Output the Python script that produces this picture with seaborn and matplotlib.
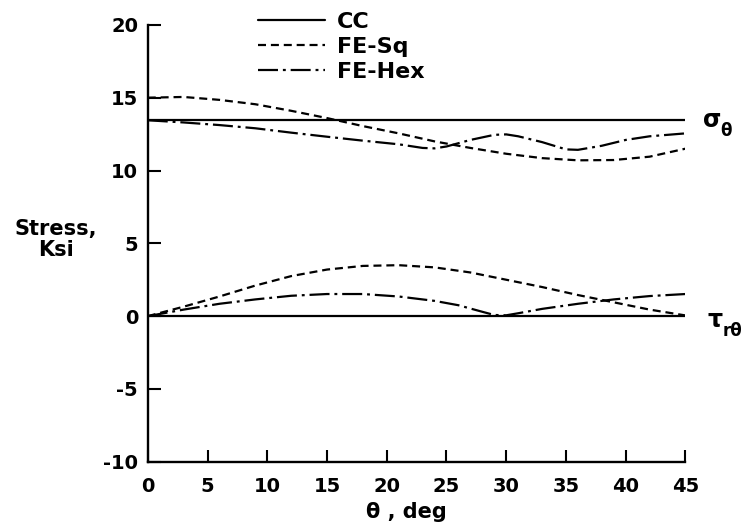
import numpy as np
import pandas as pd
import matplotlib
matplotlib.use("Agg")
import matplotlib.pyplot as plt
from matplotlib.lines import Line2D
import seaborn as sns

# values (tilt of the scan removed)
theta_cc = [0, 45]
sigma_cc = [13.45, 13.45]
tau_cc = [0.0, 0.0]

theta_sq = [0, 3, 6, 9, 12, 15, 18, 21, 24, 27, 30, 33, 36, 39, 42, 45]
sigma_sq = [15.0, 15.05, 14.85, 14.55, 14.1, 13.6, 13.05, 12.55, 12.0, 11.55,
            11.15, 10.85, 10.7, 10.72, 10.95, 11.5]
tau_sq = [0.0, 0.65, 1.35, 2.1, 2.75, 3.2, 3.45, 3.5, 3.35, 3.0,
          2.5, 2.0, 1.45, 0.95, 0.45, 0.05]

theta_hex_s = [0, 3, 6, 9, 12, 15, 18, 21, 23, 24, 25, 27, 29, 30, 31, 33,
               35, 36, 38, 40, 42, 45]
sigma_hex = [13.45, 13.3, 13.12, 12.9, 12.6, 12.32, 12.05, 11.8, 11.55, 11.52,
             11.65, 12.1, 12.45, 12.48, 12.35, 11.95, 11.45, 11.42, 11.7,
             12.1, 12.35, 12.55]
theta_hex_t = [0, 3, 6, 9, 12, 15, 18, 21, 24, 26, 28, 29, 30, 31, 33, 36,
               39, 42, 45]
tau_hex = [0.0, 0.45, 0.85, 1.15, 1.4, 1.52, 1.52, 1.35, 1.05, 0.75, 0.3,
           0.08, 0.06, 0.2, 0.5, 0.85, 1.15, 1.38, 1.52]

models = ["CC", "FE-Sq", "FE-Hex"]
x_ticks = list(range(0, 50, 5))
y_ticks = list(range(-10, 25, 5))

rows = []
def add(model, comp, th, vals):
    for t, v in zip(th, vals):
        rows.append({"model": model, "comp": comp, "theta": t, "stress": v})

add("CC", "sigma", theta_cc, sigma_cc)
add("CC", "tau", theta_cc, tau_cc)
add("FE-Sq", "sigma", theta_sq, sigma_sq)
add("FE-Sq", "tau", theta_sq, tau_sq)
add("FE-Hex", "sigma", theta_hex_s, sigma_hex)
add("FE-Hex", "tau", theta_hex_t, tau_hex)
df = pd.DataFrame(rows)

sns.set_theme(style="ticks")
plt.rcParams["font.family"] = ["DejaVu Sans"]
plt.rcParams["axes.unicode_minus"] = False
plt.rcParams["text.color"] = "black"
plt.rcParams["axes.labelcolor"] = "black"

dash_map = {"CC": "", "FE-Sq": (3.6, 2.2), "FE-Hex": (9, 2.2, 1.3, 2.2)}
lw = 1.6

fig = plt.figure(figsize=(7.5, 5.29), dpi=100)
ax = fig.add_axes([0.197, 0.127, 0.717, 0.826])

sns.lineplot(data=df, x="theta", y="stress", style="model", units="comp",
             estimator=None, dashes=dash_map, color="black", linewidth=lw,
             legend=False, ax=ax, sort=False)

ax.set_xlim(0, 45)
ax.set_ylim(-10, 20)
ax.set_xticks(x_ticks)
ax.set_yticks(y_ticks)
for s in ["top", "right"]:
    ax.spines[s].set_visible(False)
for s in ["left", "bottom"]:
    ax.spines[s].set_linewidth(1.7)
    ax.spines[s].set_color("black")
ax.tick_params(direction="in", length=9, width=1.5, labelsize=14, colors="black")
ax.tick_params(axis="x", pad=11)
ax.tick_params(axis="y", pad=7)
for lab in ax.get_xticklabels() + ax.get_yticklabels():
    lab.set_fontweight("bold")

ax.set_xlabel("θ , deg", fontsize=15, fontweight="bold", va="top", color="black")
ax.xaxis.set_label_coords(0.481, -0.092)
ax.set_ylabel("Stress,\nKsi", fontsize=15, fontweight="bold", rotation=0,
              ha="center", va="center", multialignment="center", linespacing=1.05,
              color="black")
ax.yaxis.set_label_coords(-0.171, 0.508)

# component labels at the right end of the curves
ax.text(46.5, 13.5, "σ", fontsize=17, fontweight="bold", ha="left",
        va="center", clip_on=False, color="black")
ax.text(47.9, 12.7, "θ", fontsize=12, fontweight="bold", ha="left",
        va="center", clip_on=False, color="black")
ax.text(46.8, -0.25, "τ", fontsize=17, fontweight="bold", ha="left",
        va="center", clip_on=False, color="black")
ax.text(48.1, -1.0, "rθ", fontsize=12, fontweight="bold", ha="left",
        va="center", clip_on=False, color="black")

handles = [Line2D([], [], color="black", lw=lw, dashes=dash_map[m]) if dash_map[m]
           else Line2D([], [], color="black", lw=lw) for m in models]
leg = ax.legend(handles, models, loc="upper left", bbox_to_anchor=(0.344, 0.978),
                bbox_transform=fig.transFigure, frameon=False, borderpad=0,
                borderaxespad=0, handlelength=3.0, handletextpad=0.54,
                labelspacing=0.23, prop={"weight": "bold", "size": 16})
for t in leg.get_texts():
    t.set_color("black")

fig.savefig("out.png", dpi=100)
